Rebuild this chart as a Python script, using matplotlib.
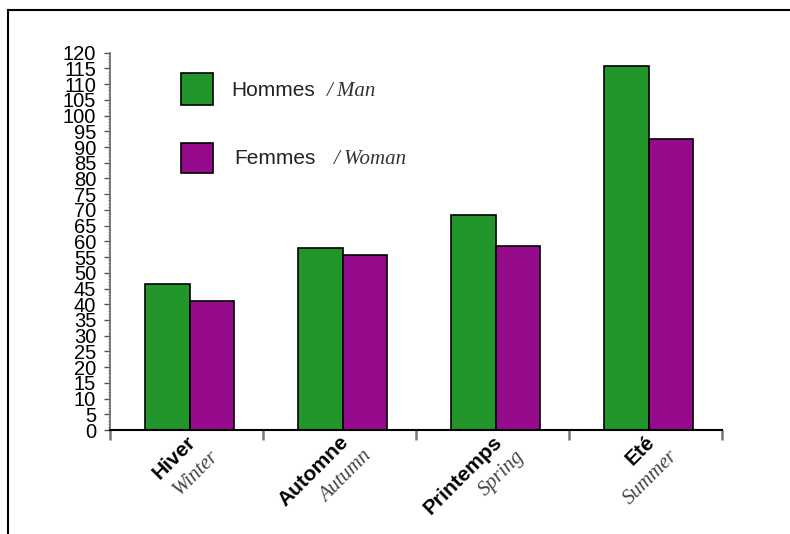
import matplotlib
matplotlib.use("Agg")
import matplotlib.pyplot as plt
import matplotlib.transforms as mtransforms
from matplotlib.lines import Line2D
from matplotlib.patches import Rectangle
import numpy as np

# data
seasons_fr = ["Hiver", "Automne", "Printemps", "Eté"]
seasons_en = ["Winter", "Autumn", "Spring", "Summer"]
hommes = [46.4, 57.8, 68.4, 115.9]
femmes = [41.0, 55.7, 58.6, 92.6]
yticks = list(range(0, 121, 5))

green = "#22962a"
purple = "#960a8c"

W, H = 790, 534
fig = plt.figure(figsize=(W / 100, H / 100), dpi=100)

def px(x, y):
    # pixel position (from top left) -> figure fraction
    return x / W, 1 - y / H

ax = fig.add_axes([110 / W, 104 / H, 612 / W, 377.3 / H])

x = np.arange(len(seasons_fr))
ax.bar(x + 0.375, hommes, width=0.29, color=green, edgecolor="black", linewidth=1.2)
ax.bar(x + 0.665, femmes, width=0.29, color=purple, edgecolor="black", linewidth=1.2)

ax.set_xlim(0, 4)
ax.set_ylim(0, 120)
ax.set_yticks(yticks)
ax.set_yticklabels([str(v) for v in yticks], family="Liberation Sans", fontsize=14.5)
ax.set_yticks(np.arange(0, 121, 1), minor=True)
ax.tick_params(axis="y", which="major", direction="out", length=4, width=1, color="#555555", pad=6)
ax.tick_params(axis="y", which="minor", direction="out", length=1.5, width=0.8, color="#888888")
ax.set_xticks(np.arange(0, 5))
ax.set_xticklabels([])
ax.tick_params(axis="x", which="major", direction="out", length=7.5, width=1.8, color="#777777")

for s in ["top", "right"]:
    ax.spines[s].set_visible(False)
ax.spines["left"].set_color("#666666")
ax.spines["left"].set_linewidth(1.2)
ax.spines["bottom"].set_linewidth(1.5)

# category labels, rotated
for i in range(len(seasons_fr)):
    t1 = mtransforms.offset_copy(ax.get_xaxis_transform(), fig=fig, x=9.5, y=-1.8, units="points")
    ax.text(i + 0.5, 0, seasons_fr[i], transform=t1, rotation=45, ha="right", va="top",
            family="Liberation Sans", fontweight="bold", fontsize=15)
    t2 = mtransforms.offset_copy(ax.get_xaxis_transform(), fig=fig, x=26, y=-12, units="points")
    ax.text(i + 0.5, 0, seasons_en[i], transform=t2, rotation=45, ha="right", va="top",
            family="Liberation Serif", style="italic", fontsize=15, color="#444444")

# legend drawn by hand
x0, y0 = px(181, 105)
fig.add_artist(Rectangle((x0, y0), 32 / W, 32 / H, transform=fig.transFigure,
                         facecolor=green, edgecolor="black", linewidth=1.2))
x0, y0 = px(181, 173)
fig.add_artist(Rectangle((x0, y0), 32 / W, 30 / H, transform=fig.transFigure,
                         facecolor=purple, edgecolor="black", linewidth=1.2))
fig.text(*px(231, 90), "Hommes", family="Liberation Sans", fontsize=15, color="#222222", va="center")
fig.text(*px(327, 91), "/ Man", family="Liberation Serif", style="italic", fontsize=15, color="#333333", va="center")
fig.text(*px(234, 158), "Femmes", family="Liberation Sans", fontsize=15, color="#222222", va="center")
fig.text(*px(334, 159), "/ Woman", family="Liberation Serif", style="italic", fontsize=15, color="#333333", va="center")

# frame lines at left and top of the picture
fig.add_artist(Line2D([8 / W, 8 / W], [0, 1 - 10 / H], transform=fig.transFigure, color="black", linewidth=1.5))
fig.add_artist(Line2D([8 / W, 1], [1 - 10 / H, 1 - 10 / H], transform=fig.transFigure, color="black", linewidth=1.5))

fig.savefig("out.png", dpi=100)
